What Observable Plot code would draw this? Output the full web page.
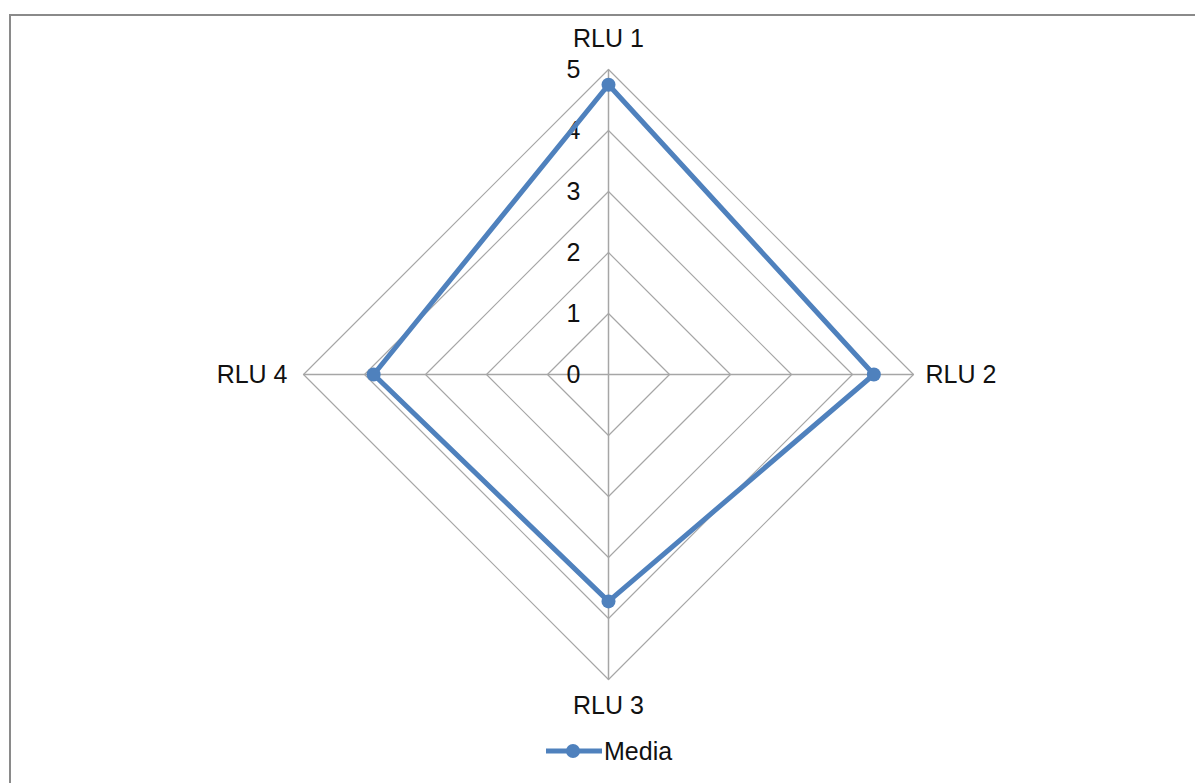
<!DOCTYPE html>
<html>
<head>
<meta charset="utf-8">
<script src="https://cdn.jsdelivr.net/npm/d3@7"></script>
<script src="https://cdn.jsdelivr.net/npm/@observablehq/plot@0.6"></script>
<style>
  html, body { margin: 0; padding: 0; background: #fff; overflow: hidden; }
  body { width: 1195px; height: 783px; position: relative; font-family: "Liberation Sans", Arial, sans-serif; }
  #frame { position: absolute; left: 9px; top: 14px; width: 1200px; height: 800px; border-left: 2px solid #8a8a8a; border-top: 2px solid #8a8a8a; box-sizing: border-box; }
  #chart { position: absolute; left: 0; top: 0; }
  #legend { position: absolute; left: 546px; top: 736px; display: flex; align-items: center; font-size: 25px; color: #111; }
</style>
</head>
<body>
<div id="frame"></div>
<div id="chart"></div>
<div id="legend"></div>
<script>
// Data
const categories = ["RLU 1", "RLU 2", "RLU 3", "RLU 4"];
const values = [4.75, 4.35, 3.72, 3.85];
const tickLabels = [0, 1, 2, 3, 4, 5];
const seriesName = "Media";

const maxV = 5;
const W = 1195, H = 720;
const cx = 608, cy = 374, R = 305;
const unit = R / maxV;

const n = categories.length;
const ang = i => (i / n) * 2 * Math.PI;

const gridPts = [];
for (const lv of tickLabels.filter(t => t > 0)) {
  categories.forEach((c, i) => gridPts.push({lv, x: lv * Math.sin(ang(i)), y: lv * Math.cos(ang(i))}));
}
const spokes = categories.map((c, i) => ({x2: maxV * Math.sin(ang(i)), y2: maxV * Math.cos(ang(i))}));
const series = categories.map((c, i) => ({c, v: values[i], x: values[i] * Math.sin(ang(i)), y: values[i] * Math.cos(ang(i))}));
const labels = categories.map((c, i) => {
  const s = Math.sin(ang(i)), co = Math.cos(ang(i));
  return {c, x: maxV * s, y: maxV * co, s, co};
});

const blue = "#4F81BD";
const grey = "#a6a6a6";
const txt = {fontSize: 25, fill: "#111"};

const plot = Plot.plot({
  width: W,
  height: H,
  margin: 0,
  x: {domain: [-cx / unit, (W - cx) / unit], range: [0, W], axis: null},
  y: {domain: [-(H - cy) / unit, cy / unit], range: [H, 0], axis: null},
  style: {fontFamily: "'Liberation Sans', Arial, sans-serif", background: "transparent"},
  marks: [
    Plot.line(gridPts, {x: "x", y: "y", z: "lv", curve: "linear-closed", stroke: grey, strokeWidth: 1.2}),
    Plot.link(spokes, {x1: 0, y1: 0, x2: "x2", y2: "y2", stroke: grey, strokeWidth: 1.5}),
    Plot.text(tickLabels, {x: 0, y: d => d, text: d => String(d), textAnchor: "end", dx: -28, ...txt}),
    Plot.line(series, {x: "x", y: "y", curve: "linear-closed", stroke: blue, strokeWidth: 5, strokeLinejoin: "round"}),
    Plot.dot(series, {x: "x", y: "y", r: 7, fill: blue}),
    Plot.text(labels, {filter: d => d.co > 0.5, x: "x", y: "y", text: "c", textAnchor: "middle", dy: -31, ...txt}),
    Plot.text(labels, {filter: d => d.co < -0.5, x: "x", y: "y", text: "c", textAnchor: "middle", dy: 26, ...txt}),
    Plot.text(labels, {filter: d => d.s > 0.5, x: "x", y: "y", text: "c", textAnchor: "start", dx: 12, ...txt}),
    Plot.text(labels, {filter: d => d.s < -0.5, x: "x", y: "y", text: "c", textAnchor: "end", dx: -16, ...txt})
  ]
});
document.getElementById("chart").appendChild(plot);

const leg = document.getElementById("legend");
leg.innerHTML = `<svg width="56" height="30"><line x1="0" y1="15" x2="56" y2="15" stroke="${blue}" stroke-width="5"/><circle cx="27" cy="15" r="7" fill="${blue}"/></svg><span style="margin-left:2px">${seriesName}</span>`;
</script>
</body>
</html>
